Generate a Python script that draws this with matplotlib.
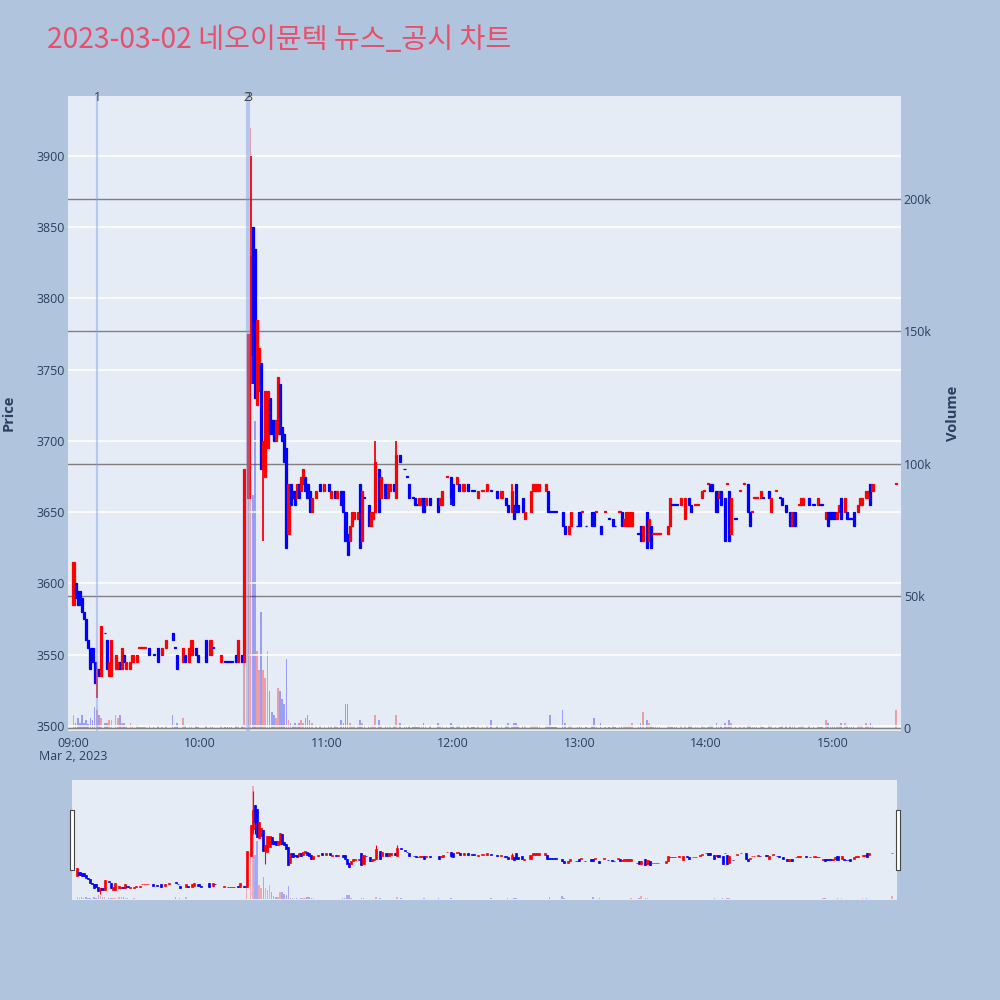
import matplotlib
matplotlib.use("Agg")
import matplotlib.pyplot as plt
from matplotlib.patches import Rectangle
import numpy as np

plt.rcParams['font.family'] = ['Open Sans', 'Noto Sans CJK KR', 'DejaVu Sans']

title = "2023-03-02 네오이뮨텍 뉴스_공시 차트"

# minutes after 09:00 (one candle per traded minute)
minutes = [0, 1, 2, 3, 4, 5, 6, 7, 8, 9,
           10, 11, 12, 13, 15, 16, 17, 18, 20, 21,
           22, 23, 24, 25, 27, 28, 30, 31, 32, 33,
           34, 36, 38, 40, 42, 44, 47, 48, 49, 52,
           53, 55, 56, 58, 59, 63, 65, 66, 70, 72,
           73, 74, 75, 77, 78, 80, 81, 83, 84, 85,
           86, 87, 88, 89, 90, 91, 92, 93, 94, 95,
           96, 97, 98, 99, 100, 101, 102, 103, 104, 105,
           106, 107, 108, 109, 110, 111, 112, 113, 115, 117,
           119, 121, 122, 124, 125, 127, 128, 129, 130, 131,
           132, 133, 135, 136, 137, 138, 140, 141, 142, 143,
           145, 146, 148, 149, 150, 152, 153, 155, 157, 158,
           159, 161, 162, 163, 164, 165, 166, 167, 169, 173,
           174, 175, 177, 179, 180, 182, 183, 185, 187, 189,
           190, 192, 194, 196, 198, 201, 203, 205, 206, 208,
           209, 210, 211, 213, 214, 217, 218, 219, 220, 221,
           224, 225, 226, 227, 228, 229, 232, 233, 235, 236,
           239, 240, 241, 243, 246, 247, 248, 250, 252, 254,
           256, 257, 259, 260, 261, 262, 263, 264, 265, 268,
           269, 270, 272, 273, 274, 275, 276, 277, 278, 282,
           283, 284, 285, 286, 288, 290, 292, 293, 295, 296,
           298, 299, 301, 302, 303, 305, 306, 307, 309, 310,
           311, 312, 314, 316, 318, 320, 321, 322, 323, 324,
           326, 327, 330, 331, 333, 335, 336, 338, 340, 341,
           342, 344, 345, 346, 349, 351, 353, 354, 355, 357,
           358, 359, 360, 361, 362, 363, 364, 366, 367, 368,
           369, 370, 372, 373, 374, 376, 377, 378, 379, 390]

opens = [3585, 3600, 3595, 3595, 3590, 3580, 3575, 3560, 3555, 3555,
         3545, 3535, 3540, 3535, 3565, 3560, 3535, 3535, 3540, 3540,
         3545, 3540, 3550, 3540, 3540, 3545, 3545, 3555, 3555, 3555,
         3555, 3555, 3550, 3555, 3550, 3555, 3565, 3555, 3550, 3545,
         3550, 3545, 3550, 3555, 3550, 3560, 3550, 3555, 3545, 3545,
         3545, 3545, 3545, 3550, 3545, 3550, 3545, 3660, 3760, 3850,
         3835, 3725, 3735, 3755, 3680, 3675, 3695, 3730, 3715, 3715,
         3700, 3705, 3740, 3710, 3705, 3695, 3635, 3670, 3665, 3665,
         3660, 3670, 3665, 3670, 3675, 3670, 3665, 3650, 3660, 3670,
         3665, 3670, 3660, 3665, 3660, 3665, 3665, 3650, 3635, 3630,
         3640, 3645, 3645, 3670, 3630, 3660, 3655, 3640, 3645, 3650,
         3680, 3660, 3670, 3660, 3665, 3670, 3660, 3690, 3680, 3675,
         3670, 3660, 3660, 3655, 3655, 3655, 3660, 3655, 3660, 3660,
         3655, 3655, 3675, 3675, 3670, 3670, 3670, 3665, 3670, 3665,
         3665, 3660, 3665, 3665, 3665, 3665, 3660, 3660, 3655, 3650,
         3655, 3670, 3655, 3660, 3645, 3650, 3665, 3665, 3665, 3665,
         3665, 3665, 3650, 3650, 3650, 3650, 3650, 3640, 3635, 3640,
         3640, 3650, 3650, 3640, 3650, 3650, 3650, 3640, 3650, 3645,
         3645, 3640, 3650, 3650, 3640, 3640, 3640, 3640, 3640, 3635,
         3640, 3630, 3650, 3630, 3640, 3635, 3635, 3635, 3635, 3635,
         3640, 3655, 3655, 3655, 3655, 3645, 3660, 3655, 3655, 3655,
         3660, 3665, 3670, 3670, 3670, 3665, 3660, 3665, 3660, 3670,
         3665, 3635, 3645, 3665, 3670, 3670, 3650, 3650, 3660, 3660,
         3660, 3660, 3665, 3650, 3665, 3660, 3660, 3655, 3650, 3640,
         3650, 3655, 3655, 3655, 3660, 3655, 3655, 3655, 3655, 3645,
         3650, 3650, 3650, 3650, 3645, 3650, 3660, 3650, 3650, 3645,
         3645, 3650, 3650, 3655, 3655, 3660, 3660, 3670, 3665, 3670]

closes = [3615, 3590, 3585, 3585, 3580, 3575, 3560, 3555, 3540, 3545,
          3530, 3540, 3535, 3570, 3565, 3540, 3545, 3560, 3550, 3545,
          3540, 3555, 3545, 3545, 3545, 3550, 3550, 3555, 3555, 3555,
          3555, 3550, 3550, 3545, 3555, 3560, 3560, 3555, 3540, 3555,
          3545, 3555, 3560, 3550, 3545, 3545, 3560, 3555, 3550, 3545,
          3545, 3545, 3545, 3545, 3560, 3545, 3680, 3775, 3830, 3785,
          3730, 3785, 3765, 3680, 3700, 3735, 3735, 3705, 3705, 3700,
          3715, 3745, 3705, 3700, 3685, 3625, 3670, 3655, 3660, 3655,
          3670, 3660, 3675, 3680, 3665, 3660, 3650, 3660, 3665, 3665,
          3670, 3665, 3665, 3660, 3665, 3655, 3650, 3630, 3620, 3640,
          3650, 3650, 3650, 3625, 3665, 3660, 3640, 3650, 3650, 3685,
          3650, 3675, 3660, 3670, 3670, 3665, 3690, 3685, 3680, 3675,
          3660, 3660, 3655, 3655, 3660, 3660, 3650, 3660, 3655, 3650,
          3660, 3665, 3675, 3660, 3655, 3675, 3665, 3670, 3665, 3665,
          3665, 3665, 3665, 3670, 3665, 3660, 3665, 3655, 3650, 3665,
          3645, 3650, 3650, 3650, 3650, 3665, 3670, 3670, 3670, 3670,
          3670, 3650, 3650, 3650, 3650, 3650, 3640, 3635, 3640, 3650,
          3640, 3640, 3650, 3640, 3640, 3640, 3650, 3635, 3650, 3645,
          3640, 3640, 3650, 3640, 3645, 3650, 3650, 3650, 3650, 3635,
          3630, 3640, 3625, 3645, 3625, 3635, 3635, 3635, 3635, 3640,
          3660, 3655, 3655, 3655, 3660, 3660, 3655, 3650, 3655, 3655,
          3665, 3665, 3670, 3665, 3665, 3650, 3665, 3655, 3630, 3670,
          3630, 3660, 3645, 3665, 3670, 3650, 3640, 3650, 3660, 3660,
          3665, 3660, 3660, 3660, 3665, 3660, 3655, 3650, 3640, 3650,
          3640, 3655, 3660, 3660, 3655, 3655, 3660, 3655, 3655, 3650,
          3640, 3645, 3645, 3645, 3650, 3655, 3645, 3660, 3645, 3645,
          3645, 3640, 3655, 3660, 3660, 3665, 3665, 3655, 3670, 3670]

# traded volume, thousands of shares
volumes = [5, 2, 4, 2, 5, 2, 3, 1.5, 4, 3,
           8, 7, 5, 4, 2, 2, 3, 3, 5, 4,
           5, 2, 2, 1, 2, 1, 1, .5, .5, .5,
           .5, 1, .5, 1, .5, 1, 5, .5, 2, 4,
           1, 1, 1, 1, .5, 1, 1, .5, 1, .3,
           .3, .3, .3, 1, 1, 1, 60, 100, 227, 88,
           116, 29, 22, 44, 22, 19, 29, 14, 6, 5,
           4, 15, 14, 11, 9, 26, 3, 2, 1, 2,
           1, 2, 3, 2, 4, 5, 3, 2, 1, 1,
           1, 1, 1, 1, 1, 3, 2, 9, 9, 2,
           1, 1, 1, 3, 2, 1, 1, 1, 1, 5,
           3, 1, 1, 1, 1, 1, 5, 2, .5, .5,
           1, .5, 1, .5, 1, 1, 2, 1, 1, 2,
           1, 1, .5, 2, 1, 1, 1, 1, 1, .5,
           .5, 1, .5, 1, 3, 1, 1, 1, 2, 1,
           2, 2, 1, 1, 1, 1, 1, 1, 1, 1,
           1, 1, 5, .5, .5, .5, 7, 2, 1, 1,
           .5, 1, .5, .5, 1, 4, .5, 2, .5, .5,
           1, .5, .5, 1, 1, 1, 1, 1, 2, .5,
           2, 6, 3, 2, 1, .5, .5, .5, .5, 1,
           1, .5, .5, .5, 1, 1, 1, 1, .5, .5,
           1, .5, .5, 1, 1, 2, 1, 1, 2, .5,
           3, 2, .5, .5, .5, 1, 1, .5, .5, .5,
           1, .5, 1, 1, .5, .5, 1, 1, 1, 1,
           1, .5, 1, 1, 1, .5, 1, .5, .5, 3,
           2, 1, 1, 1, 1, 1, 2, 2, 1, .5,
           .5, 1, 1, 1, 1, 2, 1, 2, 1, 7]

# candles whose shadows reach beyond the body
wick_minutes = [11, 84, 85, 90, 143, 153, 179, 208]
wick_highs = [3540, 3900, 3850, 3700, 3700, 3700, 3675, 3670]
wick_lows = [3520, 3740, 3740, 3630, 3650, 3660, 3655, 3650]

# news / disclosure times
event_minutes = [11.2, 82.3, 83.3]
event_labels = ["1", "2", "3"]

hour_ticks = [0, 60, 120, 180, 240, 300, 360]
hour_labels = ["09:00", "10:00", "11:00", "12:00", "13:00", "14:00", "15:00"]
price_ticks = [3500, 3550, 3600, 3650, 3700, 3750, 3800, 3850, 3900]
vol_ticks = [0, 50, 100, 150, 200]
vol_labels = ["0", "50k", "100k", "150k", "200k"]

RED = '#FF0000'
BLUE = '#0000FF'
TXT = '#2a3f5f'
PLOT_BG = '#E5ECF6'

m = np.array(minutes, dtype=float)
o = np.array(opens, dtype=float)
c = np.array(closes, dtype=float)
v = np.array(volumes, dtype=float) * 1000
hi = np.maximum(o, c)
lo = np.minimum(o, c)
for wm, wh, wl in zip(wick_minutes, wick_highs, wick_lows):
    k = minutes.index(wm)
    hi[k] = max(hi[k], wh)
    lo[k] = min(lo[k], wl)

# up = red, down = blue, flat candles follow the previous close
colors = []
prev_c, prev_col = c[0], RED
for oi, ci in zip(o, c):
    if ci > oi:
        col = RED
    elif ci < oi:
        col = BLUE
    elif ci > prev_c:
        col = RED
    elif ci < prev_c:
        col = BLUE
    else:
        col = prev_col
    colors.append(col)
    prev_c, prev_col = ci, col

xlim = (-2.6, 392.5)
plim = (3496.5, 3942)
vlim = (-1100, 239000)


def draw(axp, axv, body_w, edge_lw, wick_lw, vol_w, vol_alpha):
    axv.bar(m, v, width=vol_w, color=colors, alpha=vol_alpha, linewidth=0)
    axp.vlines(m, lo, hi, colors=colors, linewidth=wick_lw)
    body = np.maximum(np.abs(c - o), 0.6)
    axp.bar(m, body, bottom=np.minimum(o, c), width=body_w, color=colors,
            edgecolor=colors, linewidth=edge_lw)


fig = plt.figure(figsize=(10, 10), dpi=100)
fig.patch.set_facecolor('#B0C4DE')

# main chart: volume axis underneath, price axis on top
ax = fig.add_axes([0.068, 0.269, 0.833, 0.635])
ax2 = ax.twinx()
ax.set_zorder(2)
ax2.set_zorder(1)
ax.patch.set_visible(False)
ax2.patch.set_visible(True)
ax2.patch.set_facecolor(PLOT_BG)

draw(ax, ax2, 1.0, 0.9, 1.3, 0.8, 0.33)

for em, el in zip(event_minutes, event_labels):
    ax.axvline(em, color='#7f9ee8', alpha=0.45, linewidth=1.6, zorder=3)
    ax.text(em, plim[1] - 1, el, ha='center', va='center', fontsize=9,
            color='#444444', zorder=4)

ax.set_xlim(*xlim)
ax.set_ylim(*plim)
ax2.set_ylim(*vlim)
ax.set_yticks(price_ticks)
ax.set_yticklabels([str(p) for p in price_ticks])
ax2.set_yticks([t * 1000 for t in vol_ticks])
ax2.set_yticklabels(vol_labels)
ax.set_xticks(hour_ticks)
ax.set_xticklabels(hour_labels)

ax.grid(axis='y', color='white', linewidth=1.1)
ax.grid(axis='x', visible=False)
ax2.grid(axis='y', color='#808080', linewidth=1.0)
ax2.set_axisbelow(True)
ax.set_axisbelow(True)

for a in (ax, ax2):
    for s in a.spines.values():
        s.set_visible(False)
    a.tick_params(length=0, labelsize=8.9, labelcolor=TXT)
ax.tick_params(axis='y', pad=2)
ax2.tick_params(axis='y', pad=2)
ax.tick_params(axis='x', pad=4)

fig.text(0.073, 0.243, "Mar 2, 2023", ha='center', va='center',
         fontsize=8.9, color=TXT)
fig.text(0.009, 0.587, "Price", rotation=90, ha='center', va='center',
         fontsize=10.5, fontweight='bold', color=TXT)
fig.text(0.953, 0.587, "Volume", rotation=90, ha='center', va='center',
         fontsize=10.5, fontweight='bold', color=TXT)

fig.text(0.047, 0.960, title, ha='left', va='center', fontsize=20.3,
         color='#E8506A', family=['Noto Sans CJK KR', 'DejaVu Sans'])

# range slider
axs = fig.add_axes([0.072, 0.100, 0.825, 0.120])
axs2 = axs.twinx()
axs.set_zorder(2)
axs2.set_zorder(1)
axs.patch.set_visible(False)
axs2.patch.set_visible(True)
axs2.patch.set_facecolor(PLOT_BG)
draw(axs, axs2, 1.0, 0.5, 0.8, 0.7, 0.28)
axs.set_xlim(*xlim)
axs.set_ylim(*plim)
axs2.set_ylim(*vlim)
for a in (axs, axs2):
    a.set_xticks([])
    a.set_yticks([])
    for s in a.spines.values():
        s.set_visible(False)

for hx in (0.0695, 0.8955):
    fig.patches.append(Rectangle((hx, 0.130), 0.004, 0.060,
                                 transform=fig.transFigure, facecolor='white',
                                 edgecolor='#444444', linewidth=0.8))

fig.savefig('out.png', dpi=100, facecolor=fig.get_facecolor())
